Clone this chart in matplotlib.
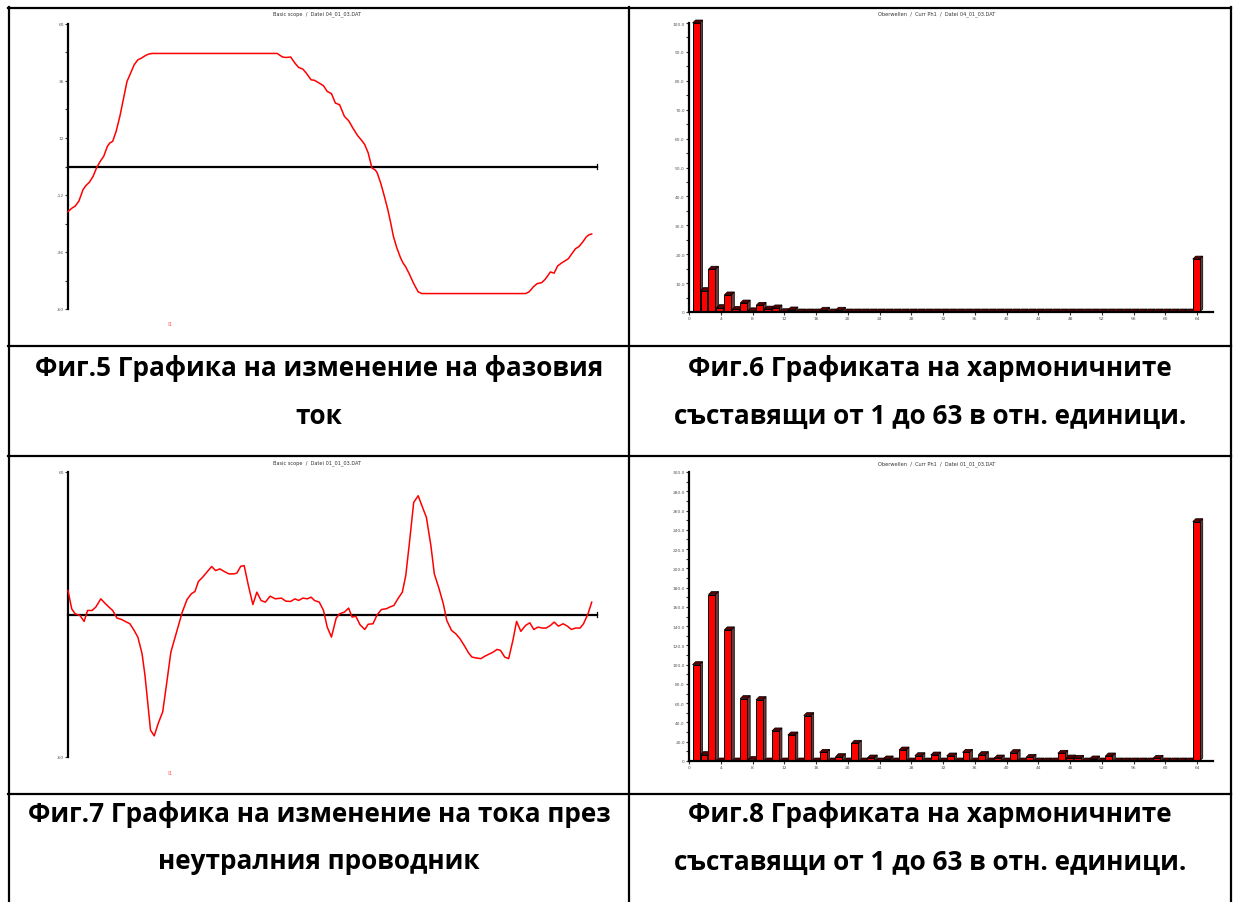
import matplotlib
matplotlib.use("Agg")
import matplotlib.pyplot as plt
from matplotlib.patches import Rectangle, Polygon
from matplotlib.lines import Line2D

W, H, DPI = 1237, 903, 100

# ---- Fig.5: phase current over one period (t in ms, i in A)
phase_t = [0.00, 0.14, 0.27, 0.41, 0.57, 0.68, 0.81, 0.95, 1.08, 1.22, 1.35, 1.49, 1.58,
           1.69, 1.82, 1.96, 2.09, 2.23, 2.34, 2.50, 2.64, 2.77, 2.91, 3.04, 3.18,
           7.91, 8.11, 8.24, 8.42, 8.58, 8.72, 8.88, 9.01, 9.19, 9.32, 9.53, 9.66, 9.80,
           9.96, 10.11, 10.27, 10.45, 10.61, 10.77, 10.95, 11.08, 11.22, 11.35, 11.49,
           11.62, 11.69, 11.82, 11.96, 12.09, 12.20, 12.30, 12.43, 12.57, 12.66, 12.77,
           12.91, 13.07, 13.24, 13.38, 17.30, 17.43, 17.61, 17.74, 17.91, 18.04, 18.24,
           18.38, 18.51, 18.65, 18.78, 18.92, 19.05, 19.19, 19.32, 19.46, 19.59, 19.69, 19.80]
phase_i = [-19.0, -17.6, -16.7, -14.6, -9.7, -8.0, -6.6, -4.1, -0.6, 2.2, 4.3, 8.5, 9.9,
           10.6, 14.8, 21.1, 28.1, 35.8, 38.6, 42.8, 44.9, 45.6, 46.6, 47.3, 47.6,
           47.6, 46.1, 45.9, 46.1, 43.5, 41.7, 41.0, 39.3, 36.5, 36.3, 34.9, 34.0, 31.6,
           30.7, 26.7, 26.0, 21.1, 19.3, 16.2, 13.0, 11.3, 9.2, 5.7, -0.6,
           -1.5, -2.7, -6.9, -12.5, -18.1, -23.7, -29.3, -34.2, -38.4, -40.5, -42.3,
           -45.4, -49.3, -52.8, -53.5, -53.5, -52.8, -50.5, -49.3, -48.9, -47.5, -44.4,
           -44.9, -41.9, -40.7, -39.8, -38.8, -36.7, -34.6, -33.7, -31.8, -29.7, -28.8, -28.4]

# ---- Fig.7: neutral conductor current
neutral_t = [0.00, 0.14, 0.27, 0.45, 0.61, 0.74, 0.91, 1.05, 1.24, 1.42, 1.55, 1.69, 1.85,
             2.03, 2.16, 2.34, 2.50, 2.64, 2.80, 2.91, 3.01, 3.12, 3.26, 3.41, 3.58, 3.72,
             3.89, 4.05, 4.19, 4.32, 4.50, 4.66, 4.80, 4.93, 5.09, 5.27, 5.43, 5.58, 5.74,
             5.91, 6.08, 6.28, 6.39, 6.53, 6.66, 6.82, 6.99, 7.14, 7.30, 7.46, 7.64, 7.84,
             8.07, 8.24, 8.42, 8.58, 8.72, 8.88, 9.05, 9.19, 9.32, 9.50, 9.66, 9.80, 9.96,
             10.14, 10.27, 10.45, 10.61, 10.74, 10.88, 11.04, 11.22, 11.35, 11.53, 11.69,
             11.85, 12.03, 12.16, 12.32, 12.47, 12.64, 12.77, 12.91, 13.07, 13.24, 13.38,
             13.55, 13.72, 13.85, 14.03, 14.19, 14.32, 14.50, 14.66, 14.82, 15.00, 15.14,
             15.27, 15.43, 15.61, 15.77, 15.92, 16.08, 16.22, 16.35, 16.51, 16.66, 16.82,
             16.96, 17.12, 17.30, 17.46, 17.61, 17.77, 17.93, 18.08, 18.24, 18.38, 18.54,
             18.72, 18.88, 19.03, 19.19, 19.36, 19.49, 19.66, 19.80]
neutral_i = [10.1, 2.4, 0.3, -0.4, -2.9, 1.7, 1.7, 3.1, 6.6, 4.5, 3.1, 1.7, -1.5,
             -2.1, -2.9, -3.9, -6.7, -9.5, -16.5, -25.6, -36.8, -48.7, -51.1, -45.9, -41.0, -29.8,
             -15.8, -9.5, -3.9, 1.0, 6.3, 8.7, 9.7, 13.9, 15.7, 18.1, 20.2, 18.5, 19.2,
             18.1, 17.1, 17.1, 17.5, 20.3, 20.6, 12.2, 4.2, 9.4, 5.9, 5.2, 7.7, 6.6,
             6.9, 5.6, 5.5, 6.6, 5.9, 6.9, 6.6, 7.3, 5.9, 5.2, 1.7, -5.3, -9.5,
             -1.5, 0.3, 1.0, 2.7, -1.1, -0.7, -4.3, -6.3, -4.1, -3.9, -0.1,
             2.1, 2.4, 3.1, 3.8, 6.6, 9.4, 16.4, 30.4, 47.2, 50.0, 45.8,
             40.9, 29.0, 17.1, 10.8, 4.5, -2.5, -6.7, -8.1, -10.2, -13.4, -16.1,
             -17.9, -18.3, -18.6, -17.5, -16.7, -15.8, -14.7, -15.1, -17.9, -18.6, -10.9,
             -2.9, -7.1, -4.6, -3.5, -6.3, -5.3, -5.7, -5.7, -4.6, -3.2, -4.9,
             -3.9, -4.9, -6.3, -5.7, -5.7, -3.9, 0.3, 5.2]

# ---- Fig.6 / Fig.8: harmonic spectra (orders 1..63, last bar = total)
harm_order = list(range(1, 65))
phase_harm = [100.0, 7.4, 14.8, 1.5, 5.9, 0.9, 3.1, 0.4, 2.3, 1.0, 1.4, 0.1, 0.7, 0.0, 0.0, 0.0,
              0.6, 0.0, 0.6, 0.0, 0.0, 0.0, 0.0, 0.0, 0.0, 0.0, 0.0, 0.0, 0.0, 0.0, 0.0, 0.0,
              0.0, 0.0, 0.0, 0.0, 0.0, 0.0, 0.0, 0.0, 0.0, 0.0, 0.0, 0.0, 0.0, 0.0, 0.0, 0.0,
              0.0, 0.0, 0.0, 0.0, 0.0, 0.0, 0.0, 0.0, 0.0, 0.0, 0.0, 0.0, 0.0, 0.0, 0.0, 18.3]
neutral_harm = [100.0, 6.6, 172.8, 0.0, 136.1, 0.0, 64.8, 1.5, 63.7, 0.0, 31.2, 0.0, 27.0, 0.0,
                47.1, 0.0, 9.0, 0.0, 4.5, 0.0, 18.4, 0.0, 3.1, 0.0, 2.1, 0.0, 11.4, 0.0,
                5.5, 0.0, 6.2, 0.0, 5.2, 0.0, 9.0, 0.0, 6.6, 0.0, 3.1, 0.0, 8.7, 0.0,
                3.8, 0.0, 0.0, 0.0, 8.0, 3.1, 2.8, 0.0, 2.1, 0.0, 5.2, 0.0, 0.0, 0.0,
                0.0, 0.0, 2.8, 0.0, 0.0, 0.0, 0.0, 248.4]

captions = [
    ("Фиг.5 Графика на изменение на фазовия", "ток"),
    ("Фиг.6 Графиката на хармоничните", "съставящи от 1 до 63 в отн. единици."),
    ("Фиг.7 Графика на изменение на тока през", "неутралния проводник"),
    ("Фиг.8 Графиката на хармоничните", "съставящи от 1 до 63 в отн. единици."),
]
scope_titles = ["Basic scope  /  Datei 04_01_03.DAT", "Basic scope  /  Datei 01_01_03.DAT"]
spec_titles = ["Oberwellen  /  Curr Ph1  /  Datei 04_01_03.DAT",
               "Oberwellen  /  Curr Ph1  /  Datei 01_01_03.DAT"]

fig = plt.figure(figsize=(W / DPI, H / DPI), dpi=DPI)
fig.patch.set_facecolor("white")

TICK_FS = 3.2
TICK_COLOR = "#555555"


def px_axes(left, top, right, bottom):
    return fig.add_axes([left / W, 1 - bottom / H, (right - left) / W, (bottom - top) / H])


def fig_text(x, y, s, **kw):
    fig.text(x / W, 1 - y / H, s, **kw)


def style_axis(ax):
    for name in ("top", "right", "bottom"):
        ax.spines[name].set_visible(False)
    ax.spines["left"].set_linewidth(1.6)
    ax.tick_params(axis="y", which="both", direction="out", length=2, width=0.8,
                   labelsize=TICK_FS, labelcolor=TICK_COLOR, pad=1, color="#333333")
    ax.patch.set_alpha(0)


def scope(ax, t, i, yticks, yminor):
    ax.set_xlim(0, 20)
    ax.set_ylim(-60, 60)
    style_axis(ax)
    ax.set_xticks([])
    ax.set_yticks(yticks)
    ax.set_yticklabels([str(v) for v in yticks])
    ax.set_yticks(yminor, minor=True)
    ax.plot([0, 20], [0, 0], color="black", lw=1.6, clip_on=False, zorder=2)
    ax.plot([20, 20], [-1.2, 1.2], color="black", lw=0.9, clip_on=False, zorder=2)
    ax.plot(t, i, color="#ff0000", lw=1.1, clip_on=False, zorder=3)


SIDE = "#6a3a3a"
TOP = "#5a0000"


def spectrum(ax, orders, values, ymax, ystep):
    ax.set_xlim(0, 66)
    ax.set_ylim(0, ymax)
    style_axis(ax)
    ax.set_yticks([k * ystep for k in range(int(ymax / ystep) + 1)])
    ax.set_yticklabels(["0"] + [f"{k * ystep:.1f}" for k in range(1, int(ymax / ystep) + 1)])
    ax.set_yticks([k * ystep / 2 for k in range(int(2 * ymax / ystep) + 1)], minor=True)
    ax.set_xticks(range(0, 65, 4))
    ax.tick_params(axis="x", direction="out", length=2, width=0.8, labelsize=TICK_FS,
                   labelcolor=TICK_COLOR, pad=1, color="#333333")
    bb = ax.get_window_extent()
    dx = 3.0 * 66 / bb.width
    dy = 3.0 * ymax / bb.height
    for h, v in zip(orders, values):
        x0 = h - 0.55
        x1 = x0 + 0.88
        ax.add_patch(Polygon([(x1, 0), (x1, v), (x1 + dx, v + dy), (x1 + dx, dy)],
                             closed=True, fc=SIDE, ec="black", lw=0.5, clip_on=False, zorder=2))
        ax.add_patch(Polygon([(x0, v), (x0 + dx, v + dy), (x1 + dx, v + dy), (x1, v)],
                             closed=True, fc=TOP, ec="black", lw=0.5, clip_on=False, zorder=2))
        if v > 0:
            ax.add_patch(Rectangle((x0, 0), x1 - x0, v, fc="#ff0000", ec="black", lw=0.7,
                                   clip_on=False, zorder=3))
    ax.plot([0, 66], [0, 0], color="black", lw=1.6, clip_on=False, zorder=4)


# scope plots
ax5 = px_axes(68, 25, 597, 310)
scope(ax5, phase_t, phase_i, [-60, -36, -12, 12, 36, 60], [-48, -24, 0, 24, 48])
ax7 = px_axes(68, 473, 597, 758)
scope(ax7, neutral_t, neutral_i, [-60, 60], [])

# spectra
ax6 = px_axes(689, 24, 1213, 313)
spectrum(ax6, harm_order, phase_harm, 100, 10)
ax8 = px_axes(689, 473, 1213, 762)
spectrum(ax8, harm_order, neutral_harm, 300, 20)

# small chart titles and channel labels
fig_text(317, 14, scope_titles[0], fontsize=3.6, color="#333333", ha="center", va="center")
fig_text(317, 463, scope_titles[1], fontsize=3.6, color="#333333", ha="center", va="center")
fig_text(937, 14, spec_titles[0], fontsize=3.6, color="#333333", ha="center", va="center")
fig_text(937, 464, spec_titles[1], fontsize=3.6, color="#333333", ha="center", va="center")
fig_text(170, 325, "I1", fontsize=4.2, color="#ff6060", ha="center", va="center")
fig_text(170, 774, "I1", fontsize=4.2, color="#ff6060", ha="center", va="center")

# table grid
LW = 1.6
for y in (9, 347, 457, 795):
    fig.add_artist(Line2D([8 / W, 1231 / W], [1 - y / H, 1 - y / H], color="black", lw=LW))
for x in (9, 629, 1231):
    fig.add_artist(Line2D([x / W, x / W], [1 - 8 / H, 0], color="black", lw=LW))

# captions
cap_font = dict(fontsize=18.8, fontweight="bold", family=["Open Sans", "DejaVu Sans"],
                ha="center", va="center", color="black")
cells = [(319, 369, 416), (930, 369, 416), (319, 815, 862), (930, 815, 862)]
for (cx, y1, y2), (l1, l2) in zip(cells, captions):
    fig_text(cx, y1, l1, **cap_font)
    fig_text(cx, y2, l2, **cap_font)

fig.savefig("out.png", dpi=DPI)
